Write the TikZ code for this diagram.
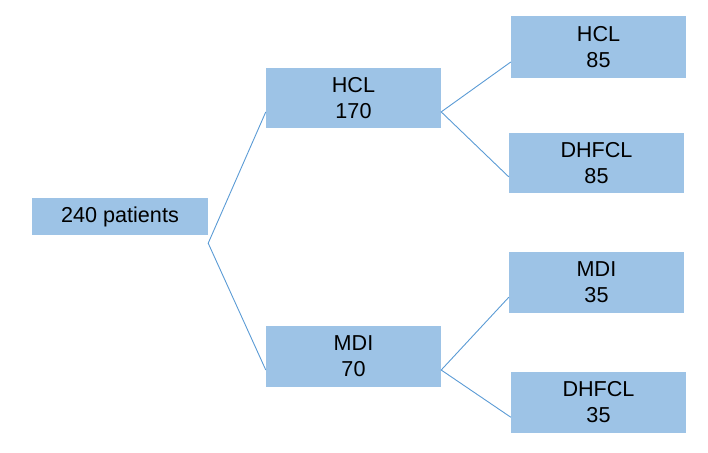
\documentclass[tikz,border=0pt]{standalone}
\usepackage{fontspec}
\setmainfont{Liberation Sans}
\usetikzlibrary{calc}
\definecolor{boxfill}{HTML}{9DC3E6}
\definecolor{linkc}{HTML}{5B9BD5}
\tikzset{
  box/.style={rectangle, fill=boxfill, draw=none, inner sep=0pt, align=center,
    minimum width=175pt, font=\fontsize{21.6}{26}\selectfont, text=black},
  link/.style={draw=linkc, line width=0.9pt}
}
\begin{document}
\begin{tikzpicture}[x=1pt,y=-1pt]
\useasboundingbox (0,0) rectangle (708,452);
\node[box, minimum width=176pt, minimum height=37pt] (p) at (120,216.5) {240 patients};
\node[box, minimum height=60pt] (h) at (353.5,98) {HCL\\170};
\node[box, minimum height=61pt] (m) at (353.5,356.5) {MDI\\70};
\node[box, minimum height=62pt] (h1) at (598.5,47) {HCL\\85};
\node[box, minimum height=60pt] (d1) at (596.5,163) {DHFCL\\85};
\node[box, minimum height=61pt] (m2) at (596.5,282.5) {MDI\\35};
\node[box, minimum height=61pt] (d2) at (598.5,402.5) {DHFCL\\35};
\coordinate (j0) at ($(p.south east)+(0,8)$);
\draw[link] ($(h.north west)!0.73!(h.south west)$) -- (j0) -- ($(m.north west)!0.72!(m.south west)$);
\draw[link] ($(h1.north west)!0.74!(h1.south west)$) -- ($(h.north east)!0.73!(h.south east)$) -- ($(d1.north west)!0.73!(d1.south west)$);
\draw[link] ($(m2.north west)!0.74!(m2.south west)$) -- ($(m.north east)!0.72!(m.south east)$) -- ($(d2.north west)!0.74!(d2.south west)$);
\end{tikzpicture}
\end{document}
